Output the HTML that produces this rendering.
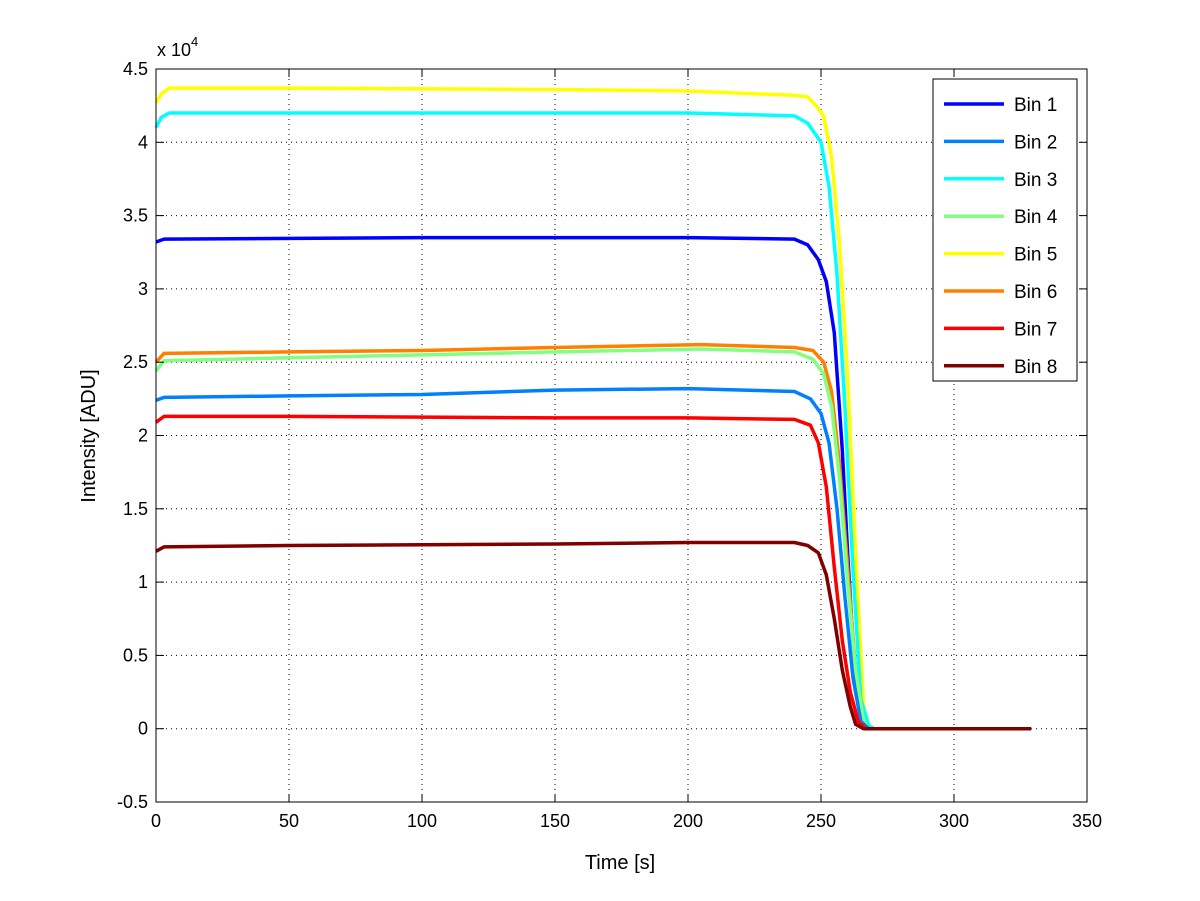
<!DOCTYPE html>
<html><head><meta charset="utf-8"><style>
body{margin:0;background:#fff}
svg{display:block;font-family:"Liberation Sans",Arial,sans-serif}
</style></head><body>
<svg id="chart" width="1200" height="901" viewBox="0 0 1200 901">
<rect width="1200" height="901" fill="#fff"/>
<g id="grid"></g>
<g id="series"></g>
<rect x="156" y="69" width="931" height="733" fill="none" stroke="#000" stroke-width="1"/>
<g id="ticks" font-size="18"></g>
<text x="157" y="56" font-size="18">x 10<tspan dy="-10" font-size="13">4</tspan></text>
<text x="620" y="869" font-size="20" text-anchor="middle">Time [s]</text>
<text transform="translate(95,436) rotate(-90)" font-size="20" text-anchor="middle">Intensity [ADU]</text>
<g id="legend"></g>
</svg>
<script>
const xTicks=[0,50,100,150,200,250,300,350];
const yTicks=[-0.5,0,0.5,1,1.5,2,2.5,3,3.5,4,4.5];
const yTickLabels=["-0.5","0","0.5","1","1.5","2","2.5","3","3.5","4","4.5"];
const seriesNames=["Bin 1","Bin 2","Bin 3","Bin 4","Bin 5","Bin 6","Bin 7","Bin 8"];
const seriesColors=["#0000ff","#0080ff","#00ffff","#80ff80","#ffff00","#ff8000","#ff0000","#800000"];
const bin1=[[0,3.32],[3,3.34],[100,3.35],[200,3.35],[240,3.34],[245,3.3],[249,3.2],[252,3.05],[255,2.7],[258,1.9],[260,1.2],[262,0.6],[264,0.2],[266,0.03],[268,0],[329,0]];
const bin2=[[0,2.24],[3,2.26],[50,2.27],[100,2.28],[150,2.31],[200,2.32],[240,2.3],[246,2.25],[250,2.15],[253,1.95],[256,1.5],[259,0.9],[262,0.35],[265,0.05],[268,0],[329,0]];
const bin3=[[0,4.1],[2,4.17],[5,4.2],[100,4.2],[200,4.2],[240,4.18],[245,4.13],[250,4.0],[253,3.7],[256,3.1],[259,2.2],[262,1.1],[265,0.2],[268,0.02],[270,0],[329,0]];
const bin4=[[0,2.44],[3,2.51],[50,2.53],[100,2.55],[150,2.57],[205,2.59],[240,2.57],[247,2.52],[251,2.42],[254,2.2],[257,1.7],[260,1.0],[263,0.4],[266,0.05],[268,0],[329,0]];
const bin5=[[0,4.27],[2,4.33],[5,4.37],[50,4.37],[150,4.36],[200,4.35],[240,4.32],[245,4.31],[248,4.25],[251,4.18],[254,3.9],[257,3.3],[260,2.4],[263,1.2],[266,0.15],[268,0.02],[270,0],[329,0]];
const bin6=[[0,2.5],[3,2.56],[50,2.57],[100,2.58],[150,2.6],[205,2.62],[240,2.6],[247,2.58],[251,2.5],[254,2.3],[257,1.8],[260,1.1],[263,0.4],[266,0.05],[268,0],[329,0]];
const bin7=[[0,2.09],[3,2.13],[50,2.13],[150,2.12],[200,2.12],[240,2.11],[246,2.07],[249,1.95],[252,1.65],[255,1.1],[258,0.6],[261,0.25],[264,0.05],[267,0],[329,0]];
const bin8=[[0,1.21],[3,1.24],[50,1.25],[150,1.26],[200,1.27],[240,1.27],[245,1.25],[249,1.2],[252,1.05],[255,0.75],[258,0.4],[261,0.15],[263,0.03],[266,0],[329,0]];
const allSeries=[bin1,bin2,bin3,bin4,bin5,bin6,bin7,bin8];

const NS="http://www.w3.org/2000/svg";
const X0=156,X1=1087,Y0=802,Y1=69;
function xs(v){return X0+(v-0)/(350-0)*(X1-X0);}
function ys(v){return Y0-(v+0.5)/(4.5+0.5)*(Y0-Y1);}
function mk(tag,attrs,parent){const e=document.createElementNS(NS,tag);for(const k in attrs)e.setAttribute(k,attrs[k]);parent.appendChild(e);return e;}
const grid=document.getElementById('grid'),ticks=document.getElementById('ticks');
xTicks.forEach(t=>{
  const x=xs(t);
  if(t>0&&t<350){const g=mk('line',{x1:x,x2:x,y1:Y1,y2:Y0,stroke:'#000','stroke-dasharray':'1 4','stroke-width':1},grid);
  
  }
  mk('line',{x1:x,x2:x,y1:Y0,y2:Y0-8,stroke:'#000'},ticks);
  mk('line',{x1:x,x2:x,y1:Y1,y2:Y1+8,stroke:'#000'},ticks);
  const tx=mk('text',{x:x,y:Y0+25,'text-anchor':'middle'},ticks);tx.textContent=t;
  
  
});
yTicks.forEach((t,i)=>{
  const y=ys(t);
  if(i>0&&i<yTicks.length-1){const g=mk('line',{x1:X0,x2:X1,y1:y,y2:y,stroke:'#000','stroke-dasharray':'1 4','stroke-width':1},grid);
  
  }
  mk('line',{x1:X0,x2:X0+8,y1:y,y2:y,stroke:'#000'},ticks);
  mk('line',{x1:X1,x2:X1-8,y1:y,y2:y,stroke:'#000'},ticks);
  const tx=mk('text',{x:X0-8,y:y+6,'text-anchor':'end'},ticks);tx.textContent=yTickLabels[i];
  
  
});
const sg=document.getElementById('series');
[4,2,0,5,3,1,6,7].forEach(i=>{
  const d=allSeries[i].map((p,j)=>(j?'L':'M')+xs(p[0]).toFixed(1)+' '+ys(p[1]).toFixed(1)).join(' ');
  const p=mk('path',{d:d,fill:'none',stroke:seriesColors[i],'stroke-width':3.5,'stroke-linejoin':'round'},sg);
  
  
});
const lg=document.getElementById('legend');
const box=mk('rect',{x:933,y:79,width:144,height:302,fill:'#fff',stroke:'#000'},lg);


seriesNames.forEach((n,i)=>{
  const y=104+i*37.4;
  const l=mk('line',{x1:944,x2:1004,y1:y,y2:y,stroke:seriesColors[i],'stroke-width':3.5},lg);
  
  
  const t=mk('text',{x:1014,y:y+7,'font-size':19},lg);t.textContent=n;
  
  
});
</script>
</body></html>
